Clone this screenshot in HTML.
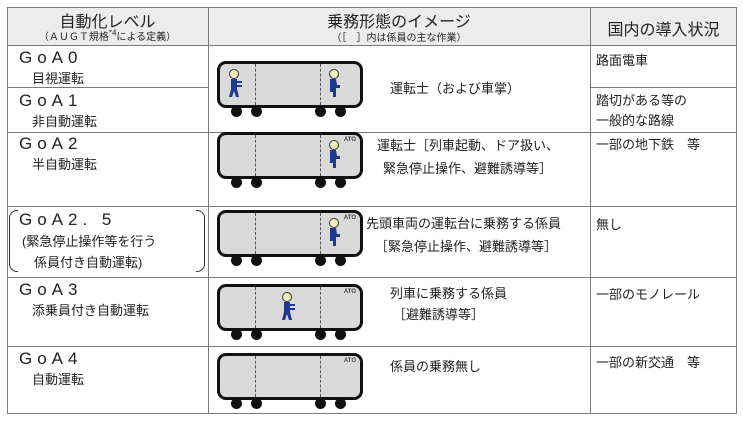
<!DOCTYPE html>
<html><head><meta charset="utf-8"><style>
body{margin:0;width:743px;height:421px;background:#fff;position:relative;overflow:hidden;font-family:"Liberation Sans","Noto Sans CJK JP",sans-serif;color:#222}
.a{position:absolute;white-space:nowrap}
.h{position:absolute;background:#7a7a7a}
.g{font-size:17px;letter-spacing:5px}
.s{font-size:13px}
.t{position:absolute;width:140px;height:41px;border:3px solid #111;border-radius:9px;background:#d9d9d9}
.t i{position:absolute;top:0;bottom:0;border-left:1px dashed #555}
.w{position:absolute;width:11px;height:11px;border-radius:50%;background:#111}
.ato{position:absolute;right:4px;top:2px;font-size:6px;font-weight:bold;color:#444}
</style></head><body>
<div class="a" style="left:7px;top:7px;width:730px;height:38px;background:#ececec"></div>
<div class="h" style="left:7px;top:7px;width:730px;height:1px"></div>
<div class="h" style="left:7px;top:45px;width:730px;height:1px"></div>
<div class="h" style="left:7px;top:87px;width:201px;height:1px"></div>
<div class="h" style="left:590px;top:87px;width:147px;height:1px"></div>
<div class="h" style="left:7px;top:132px;width:730px;height:1px"></div>
<div class="h" style="left:7px;top:206px;width:730px;height:1px"></div>
<div class="h" style="left:7px;top:277px;width:730px;height:1px"></div>
<div class="h" style="left:7px;top:346px;width:730px;height:1px"></div>
<div class="h" style="left:7px;top:413px;width:730px;height:1px"></div>
<div class="h" style="left:7px;top:7px;width:1px;height:407px"></div>
<div class="h" style="left:208px;top:7px;width:1px;height:407px"></div>
<div class="h" style="left:590px;top:7px;width:1px;height:407px"></div>
<div class="h" style="left:736px;top:7px;width:1px;height:407px"></div>
<div class="a" style="left:7px;top:8px;width:201px;text-align:center;font-size:16px">自動化レベル</div>
<div class="a" style="left:7px;top:28px;width:201px;text-align:center;font-size:10px">（ＡＵＧＴ規格<sup style="font-size:8px">*4</sup>による定義）</div>
<div class="a" style="left:208px;top:8px;width:382px;text-align:center;font-size:16px">乗務形態のイメージ</div>
<div class="a" style="left:208px;top:29px;width:382px;text-align:center;font-size:10px">（［　］内は係員の主な作業）</div>
<div class="a" style="left:590px;top:16px;width:147px;text-align:center;font-size:16px">国内の導入状況</div>
<div class="a g" style="left:19px;top:48px">GoA0</div><div class="a s" style="left:32px;top:68px">目視運転</div>
<div class="a g" style="left:19px;top:91px">GoA1</div><div class="a s" style="left:32px;top:111px">非自動運転</div>
<div class="a g" style="left:19px;top:134px">GoA2</div><div class="a s" style="left:32px;top:154px">半自動運転</div>
<div class="a g" style="left:19px;top:210px">GoA2. 5</div><div class="a s" style="left:22px;top:231px">(緊急停止操作等を行う</div><div class="a s" style="left:34px;top:252px">係員付き自動運転)</div>
<div class="a" style="left:9px;top:210px;width:8px;height:60px;border:1px solid #333;border-right:none;border-radius:8px 0 0 8px"></div>
<div class="a" style="left:196px;top:210px;width:8px;height:60px;border:1px solid #333;border-left:none;border-radius:0 8px 8px 0"></div>
<div class="a g" style="left:19px;top:280px">GoA3</div><div class="a s" style="left:32px;top:300px">添乗員付き自動運転</div>
<div class="a g" style="left:19px;top:349px">GoA4</div><div class="a s" style="left:32px;top:369px">自動運転</div>
<div class="a s" style="left:390px;top:78px">運転士（および車掌）</div>
<div class="a s" style="left:377px;top:135px">運転士［列車起動、ドア扱い、</div>
<div class="a s" style="left:383px;top:158px">緊急停止操作、避難誘導等］</div>
<div class="a s" style="left:366px;top:213px">先頭車両の運転台に乗務する係員</div>
<div class="a s" style="left:375px;top:236px">［緊急停止操作、避難誘導等］</div>
<div class="a s" style="left:390px;top:283px">列車に乗務する係員</div>
<div class="a s" style="left:393px;top:304px">［避難誘導等］</div>
<div class="a s" style="left:390px;top:356px">係員の乗務無し</div>
<div class="a s" style="left:596px;top:50px">路面電車</div>
<div class="a s" style="left:596px;top:90px">踏切がある等の</div>
<div class="a s" style="left:596px;top:110px">一般的な路線</div>
<div class="a s" style="left:596px;top:134px">一部の地下鉄　等</div>
<div class="a s" style="left:596px;top:214px">無し</div>
<div class="a s" style="left:596px;top:284px">一部のモノレール</div>
<div class="a s" style="left:596px;top:352px">一部の新交通　等</div>
<div class="t" style="left:217px;top:61px"><i style="left:35px"></i><i style="left:100px"></i></div>
<div class="t" style="left:217px;top:132px"><i style="left:35px"></i><i style="left:100px"></i><span class="ato">ATO</span></div>
<div class="t" style="left:217px;top:210px"><i style="left:35px"></i><i style="left:100px"></i><span class="ato">ATO</span></div>
<div class="t" style="left:217px;top:284px"><i style="left:35px"></i><i style="left:100px"></i><span class="ato">ATO</span></div>
<div class="t" style="left:217px;top:353px"><i style="left:35px"></i><i style="left:100px"></i><span class="ato">ATO</span></div>
<div class="w" style="left:231px;top:106px"></div><div class="w" style="left:251px;top:106px"></div><div class="w" style="left:315px;top:106px"></div><div class="w" style="left:335px;top:106px"></div>
<div class="w" style="left:231px;top:177px"></div><div class="w" style="left:251px;top:177px"></div><div class="w" style="left:315px;top:177px"></div><div class="w" style="left:335px;top:177px"></div>
<div class="w" style="left:231px;top:255px"></div><div class="w" style="left:251px;top:255px"></div><div class="w" style="left:315px;top:255px"></div><div class="w" style="left:335px;top:255px"></div>
<div class="w" style="left:231px;top:329px"></div><div class="w" style="left:251px;top:329px"></div><div class="w" style="left:315px;top:329px"></div><div class="w" style="left:335px;top:329px"></div>
<div class="w" style="left:231px;top:398px"></div><div class="w" style="left:251px;top:398px"></div><div class="w" style="left:315px;top:398px"></div><div class="w" style="left:335px;top:398px"></div>
<svg class="a" style="left:0;top:0" width="743" height="421">
<defs>
<g id="st"><circle cx="0" cy="0" r="4.5" fill="#f4f0c0" stroke="#333"/><path d="M-3,5 h6 v10 l2,8 h-3 l-2,-6 l-2,6 h-3 l2,-8z" fill="#1f3a8a"/><path d="M3,7 h5 v2 h-5z M3,11 h5 v2 h-5z" fill="#1f3a8a"/></g>
<g id="si"><circle cx="0" cy="0" r="4.5" fill="#f4f0c0" stroke="#333"/><path d="M-4,5 h6 l1,6 h3 v3 h-4 v9 h-3 v-5 h-3z" fill="#1f3a8a"/></g>
</defs>
<use href="#st" x="234" y="74"/><use href="#si" x="334" y="74"/>
<use href="#si" x="334" y="145"/>
<use href="#si" x="334" y="223"/>
<use href="#st" x="287" y="297"/>
</svg>
</body></html>
